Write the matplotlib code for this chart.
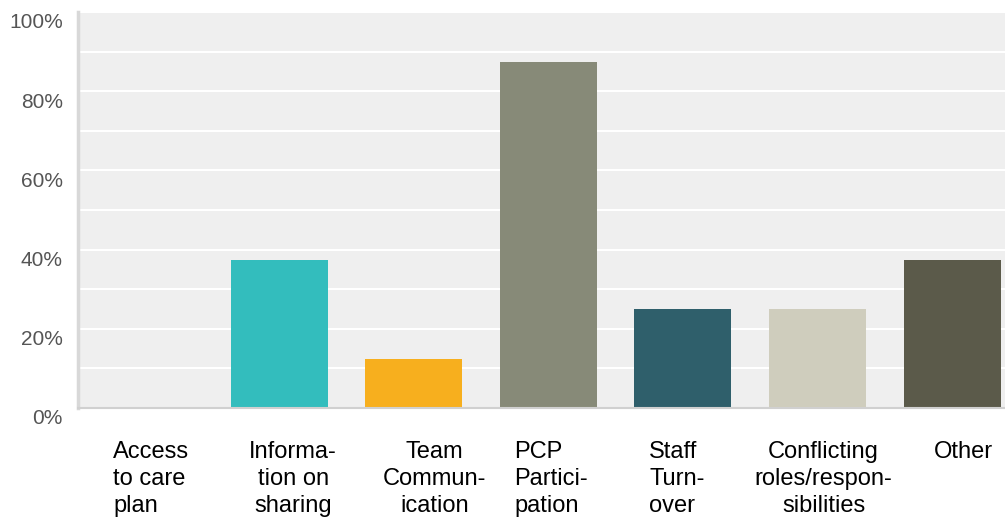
import matplotlib.pyplot as plt
from matplotlib.ticker import MultipleLocator, FuncFormatter
import matplotlib.transforms as mtransforms

categories = [
    "Access\nto care\nplan",
    "Informa-\ntion on\nsharing",
    "Team\nCommun-\nication",
    "PCP\nPartici-\npation",
    "Staff\nTurn-\nover",
    "Conflicting\nroles/respon-\nsibilities",
    "Other",
]
values = [0, 37.5, 12.5, 87.5, 25, 25, 37.5]
colors = ["#33BDBD", "#33BDBD", "#F7AF1E", "#878A78", "#2F5F6B", "#CFCDBD", "#5B5A4A"]

# label layout: line alignment and small horizontal nudge in pixels
label_align = ["left", "center", "center", "left", "left", "center", "center"]
label_nudge = [7, 14, 21, 3, -6, 6, 11]

plt.rcParams["font.family"] = ["Liberation Sans", "DejaVu Sans"]

fig = plt.figure(figsize=(10.05, 5.18), dpi=100)
ax = fig.add_axes([78 / 1005, 110 / 518, 927 / 1005, 396 / 518])
ax.set_facecolor("#EFEFEF")

x = range(len(categories))
ax.bar(x, values, width=0.72, color=colors, zorder=3)

ax.set_xlim(-0.494, 6.393)
ax.set_ylim(0, 100)

# white grid every 10%, labels every 20%
ax.yaxis.set_major_locator(MultipleLocator(20))
ax.yaxis.set_minor_locator(MultipleLocator(10))
ax.yaxis.set_major_formatter(FuncFormatter(lambda v, _: f"{v:.0f}%"))
ax.grid(True, which="both", axis="y", color="white", linewidth=1.5, zorder=1)
ax.tick_params(axis="y", which="both", length=0, labelsize=15, labelcolor="#555555", pad=11)
ax.tick_params(axis="x", length=0)
ax.set_xticks([])

# shift y tick labels down a bit
offset = mtransforms.ScaledTranslation(0, -9 / 100, fig.dpi_scale_trans)
for lbl in ax.get_yticklabels():
    lbl.set_transform(lbl.get_transform() + offset)

for s in ["top", "right"]:
    ax.spines[s].set_visible(False)
ax.spines["left"].set_color("#D8D8D8")
ax.spines["left"].set_linewidth(2.5)
ax.spines["bottom"].set_color("#D0D0D0")
ax.spines["bottom"].set_linewidth(1.5)
ax.spines["bottom"].set_zorder(4)

# category labels below the axis
trans = mtransforms.blended_transform_factory(ax.transData, fig.transFigure)
for i, (cat, al, dx) in enumerate(zip(categories, label_align, label_nudge)):
    t = trans + mtransforms.ScaledTranslation(dx / 100, 0, fig.dpi_scale_trans)
    ax.text(i, 1 - 441 / 518, cat, transform=t, ha="center", va="top",
            multialignment=al, fontsize=17, color="black", linespacing=1.28)

plt.savefig("out.png", dpi=100)
